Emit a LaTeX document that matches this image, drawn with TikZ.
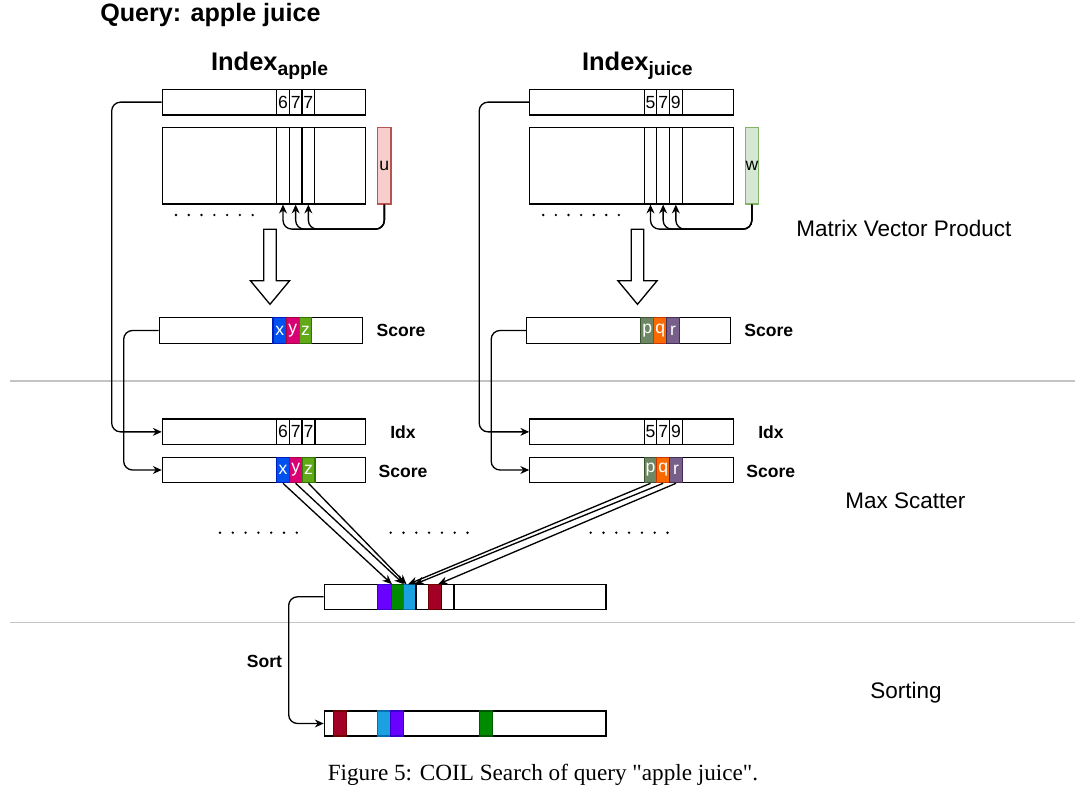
\documentclass[tikz,border=0pt]{standalone}
\usepackage{fontspec}
\setmainfont{Liberation Serif}
\setsansfont{Liberation Sans}
\usetikzlibrary{fit,arrows.meta}
\newcommand{\strq}{{\XeTeXglyph\XeTeXcharglyph"22\relax}}
\definecolor{cblue}{HTML}{0050EF}\definecolor{cblueD}{HTML}{001DBC}
\definecolor{cmag}{HTML}{D80073}\definecolor{cmagD}{HTML}{A50040}
\definecolor{cgrn}{HTML}{60A917}\definecolor{cgrnD}{HTML}{2D7600}
\definecolor{cp}{HTML}{6D8764}\definecolor{cpD}{HTML}{3A5431}
\definecolor{cq}{HTML}{FA6800}\definecolor{cqD}{HTML}{C73500}
\definecolor{cr}{HTML}{76608A}\definecolor{crD}{HTML}{432D57}
\definecolor{rpur}{HTML}{6A00FF}\definecolor{rpurD}{HTML}{3700CC}
\definecolor{rgrn}{HTML}{008A00}\definecolor{rgrnD}{HTML}{005700}
\definecolor{rblu}{HTML}{1BA1E2}\definecolor{rbluD}{HTML}{006EAF}
\definecolor{rred}{HTML}{A20025}\definecolor{rredD}{HTML}{6F0000}
\definecolor{ufill}{HTML}{F8CECC}\definecolor{udraw}{HTML}{B85450}
\definecolor{wfill}{HTML}{D5E8D4}\definecolor{wdraw}{HTML}{82B366}
\definecolor{sepgray}{HTML}{C4C4C4}
\begin{document}
\begin{tikzpicture}[x=0.02cm,y=-0.02cm,
  bx/.style={draw, line width=0.7pt, inner sep=0pt},
  cell/.style={draw, line width=0.7pt, inner sep=0pt},
  lab/.style={inner sep=0pt, font=\sffamily\fontsize{10}{12}\selectfont},
  wlab/.style={lab, text=white},
  conn/.style={draw, line width=0.75pt, rounded corners=5pt, -{Stealth[length=5pt,width=4.5pt]}},
  sc/.style={draw, line width=0.75pt, -{Stealth[length=5.5pt,width=4.5pt]}},
  lbl/.style={font=\sffamily\bfseries\fontsize{10}{12}\selectfont},
  side/.style={font=\sffamily\fontsize{12.8}{15}\selectfont, anchor=base west, inner sep=0pt},
  hollow/.style={draw, line width=0.75pt, fill=white, line join=miter},
  dot/.style={fill=black}
]
\useasboundingbox (0,0) rectangle (1080,795);

% separators
\draw[sepgray, line width=0.8pt] (10,381) -- (1075,381);
\draw[sepgray, line width=0.8pt] (10,622.3) -- (1075,622.3);

% titles
\node[anchor=base west, inner sep=0pt, font=\sffamily\bfseries\fontsize{14.3}{17}\selectfont] (query) at (100,21.5) {Query: apple juice};
\node[anchor=base west, inner sep=0pt, font=\sffamily\bfseries\fontsize{14.5}{17}\selectfont] (indA) at (210.7,70) {Index\raisebox{-3pt}{\fontsize{11}{13}\selectfont apple}};
\node[anchor=base west, inner sep=0pt, font=\sffamily\bfseries\fontsize{14.5}{17}\selectfont] (indB) at (581.7,70) {Index\raisebox{-3pt}{\fontsize{11}{13}\selectfont juice}};

\node[side] (mvp) at (796,236.5) {Matrix Vector Product};
\node[side] (msc) at (845,508.5) {Max Scatter};
\node[side] (srtl) at (870,698) {Sorting};

% ===== left block (apple) =====
\node[bx, fit={(162.3,89.3) (365.7,115)}] (topA) {};
\node[cell, fit={(276.7,89.3) (289.3,115)}, label={[lab]center:6}] (tA1) {};
\node[cell, fit={(289.3,89.3) (302,115)}, label={[lab]center:7}] (tA2) {};
\node[cell, fit={(302,89.3) (314.7,115)}, label={[lab]center:7}] (tA3) {};

\node[bx, fit={(162.3,127.7) (365.7,204)}] (matA) {};
\node[cell, fit={(276.7,127.7) (289.3,204)}] (cA1) {};
\node[cell, fit={(289.3,127.7) (302,204)}] (cA2) {};
\node[cell, fit={(302,127.7) (314.7,204)}] (cA3) {};
\node[cell, fill=ufill, draw=udraw, fit={(377.7,127.7) (391,204)}, label={[lab]center:u}] (uA) {};

\foreach \i in {0,...,6} \fill[dot] ({176+\i*12.78},215) circle[radius=0.75pt];

\draw[conn] (uA.south) -- ++(0,24.5) -| (cA1.south);
\draw[conn] (uA.south) -- ++(0,24.5) -| (cA2.south);
\draw[conn] (uA.south) -- ++(0,24.5) -| (cA3.south);

\draw[hollow] (263.7,229.3) -- (276.3,229.3) -- (276.3,280.7) -- (289.6,280.7) -- (270,304.3) -- (250.4,280.7) -- (263.7,280.7) -- cycle;

\node[bx, fit={(159.3,317.7) (362.7,343.3)}] (scoreA) {};
\node[cell, fill=cblue, draw=cblueD, fit={(273,317.7) (286.3,343.3)}, label={[wlab]center:x}] (sA1) {};
\node[cell, fill=cmag, draw=cmagD, fit={(286.3,317.7) (299.3,343.3)}, label={[wlab]center:y}] (sA2) {};
\node[cell, fill=cgrn, draw=cgrnD, fit={(299.3,317.7) (311.7,343.3)}, label={[wlab]center:z}] (sA3) {};
\node[lbl] (scoreAl) at (401,330.5) {Score};

\node[bx, fit={(162.3,419) (365.7,444.7)}] (idxA) {};
\node[cell, fit={(276.7,419) (289.3,444.7)}, label={[lab]center:6}] (iA1) {};
\node[cell, fit={(289.3,419) (302,444.7)}, label={[lab]center:7}] (iA2) {};
\node[cell, fit={(302,419) (315,444.7)}, label={[lab]center:7}] (iA3) {};
\node[lbl] (idxAl) at (403,432) {Idx};

\node[bx, fit={(162.3,457.3) (365.7,482.7)}] (scA) {};
\node[cell, fill=cblue, draw=cblueD, fit={(276.7,457.3) (289.3,482.7)}, label={[wlab]center:x}] (ssA1) {};
\node[cell, fill=cmag, draw=cmagD, fit={(289.3,457.3) (302,482.7)}, label={[wlab]center:y}] (ssA2) {};
\node[cell, fill=cgrn, draw=cgrnD, fit={(302,457.3) (315,482.7)}, label={[wlab]center:z}] (ssA3) {};
\node[lbl] (scAl) at (403,471) {Score};

\draw[conn] (topA.west) -- ++(-50,0) |- (idxA.west);
\draw[conn] (scoreA.west) -- ++(-35,0) |- (scA.west);

% ===== right block (juice) =====
\node[bx, fit={(529.8,89.3) (733.2,115)}] (topB) {};
\node[cell, fit={(644.2,89.3) (656.8,115)}, label={[lab]center:5}] (tB1) {};
\node[cell, fit={(656.8,89.3) (669.5,115)}, label={[lab]center:7}] (tB2) {};
\node[cell, fit={(669.5,89.3) (682.2,115)}, label={[lab]center:9}] (tB3) {};

\node[bx, fit={(529.8,127.7) (733.2,204)}] (matB) {};
\node[cell, fit={(644.2,127.7) (656.8,204)}] (cB1) {};
\node[cell, fit={(656.8,127.7) (669.5,204)}] (cB2) {};
\node[cell, fit={(669.5,127.7) (682.2,204)}] (cB3) {};
\node[cell, fill=wfill, draw=wdraw, fit={(745.2,127.7) (758.5,204)}, label={[lab]center:w}] (wB) {};

\foreach \i in {0,...,6} \fill[dot] ({543.3+\i*12.6},215) circle[radius=0.75pt];

\draw[conn] (wB.south) -- ++(0,24.5) -| (cB1.south);
\draw[conn] (wB.south) -- ++(0,24.5) -| (cB2.south);
\draw[conn] (wB.south) -- ++(0,24.5) -| (cB3.south);

\draw[hollow] (631.2,229.3) -- (643.8,229.3) -- (643.8,280.7) -- (657.1,280.7) -- (637.5,304.3) -- (617.9,280.7) -- (631.2,280.7) -- cycle;

\node[bx, fit={(526.8,317.7) (730.2,343.3)}] (scoreB) {};
\node[cell, fill=cp, draw=cpD, fit={(640.5,317.7) (653.8,343.3)}, label={[wlab]center:p}] (sB1) {};
\node[cell, fill=cq, draw=cqD, fit={(653.8,317.7) (666.8,343.3)}, label={[wlab]center:q}] (sB2) {};
\node[cell, fill=cr, draw=crD, fit={(666.8,317.7) (679.2,343.3)}, label={[wlab]center:r}] (sB3) {};
\node[lbl] (scoreBl) at (768.8,330.5) {Score};

\node[bx, fit={(529.8,419) (733.2,444.7)}] (idxB) {};
\node[cell, fit={(644.2,419) (656.8,444.7)}, label={[lab]center:5}] (iB1) {};
\node[cell, fit={(656.8,419) (669.5,444.7)}, label={[lab]center:7}] (iB2) {};
\node[cell, fit={(669.5,419) (682.5,444.7)}, label={[lab]center:9}] (iB3) {};
\node[lbl] (idxBl) at (771,432) {Idx};

\node[bx, fit={(529.8,457.3) (733.2,482.7)}] (scB) {};
\node[cell, fill=cp, draw=cpD, fit={(644.2,457.3) (656.8,482.7)}, label={[wlab]center:p}] (ssB1) {};
\node[cell, fill=cq, draw=cqD, fit={(656.8,457.3) (669.5,482.7)}, label={[wlab]center:q}] (ssB2) {};
\node[cell, fill=cr, draw=crD, fit={(669.5,457.3) (682.5,482.7)}, label={[wlab]center:r}] (ssB3) {};
\node[lbl] (scBl) at (770.8,471) {Score};

\draw[conn] (topB.west) -- ++(-50,0) |- (idxB.west);
\draw[conn] (scoreB.west) -- ++(-35,0) |- (scB.west);

% ===== middle dots =====
\foreach \s in {220,390.7,590.7}
  \foreach \i in {0,...,6} \fill[dot] ({\s+\i*12.8},532.7) circle[radius=0.75pt];

% ===== scatter result =====
\node[bx, fit={(324.3,584.3) (606,609.3)}] (res) {};
\node[cell, fill=rpur, draw=rpurD, fit={(377.7,584.3) (391.3,609.3)}] (r1) {};
\node[cell, fill=rgrn, draw=rgrnD, fit={(391.3,584.3) (403.7,609.3)}] (r2) {};
\node[cell, fill=rblu, draw=rbluD, fit={(403.7,584.3) (416,609.3)}] (r3) {};
\node[cell, fit={(416,584.3) (428.3,609.3)}] (r4) {};
\node[cell, fill=rred, draw=rredD, fit={(428.3,584.3) (441.7,609.3)}] (r5) {};
\node[cell, fit={(441.7,584.3) (454,609.3)}] (r6) {};

\coordinate (tgA1) at (392,584.3);
\coordinate (tgA2) at (404,584.3);
\coordinate (tgA3) at (406.5,584.3);
\coordinate (tgB1) at (408,584.3);
\coordinate (tgB2) at (414.5,584.3);
\coordinate (tgB3) at (438,584.3);
\draw[sc] (ssA1.south) -- (tgA1);
\draw[sc] (ssA2.south) -- (tgA2);
\draw[sc] (ssA3.south) -- (tgA3);
\draw[sc] (ssB1.south) -- (tgB1);
\draw[sc] (ssB2.south) -- (tgB2);
\draw[sc] (ssB3.south) -- (tgB3);

% ===== sorted =====
\node[bx, fit={(324.3,711) (606,736)}] (srt) {};
\node[cell, fill=rred, draw=rredD, fit={(333.3,711) (346.7,736)}] (q1) {};
\node[cell, fill=rblu, draw=rbluD, fit={(377.7,711) (390.7,736)}] (q2) {};
\node[cell, fill=rpur, draw=rpurD, fit={(390.7,711) (403.7,736)}] (q3) {};
\node[cell, fill=rgrn, draw=rgrnD, fit={(479.3,711) (492.7,736)}] (q4) {};

\draw[conn] (res.west) -- ++(-35,0) |- (srt.west);
\node[lbl] (sortl) at (264.5,661) {Sort};

% caption
\node[font=\fontsize{13.2}{15}\selectfont, anchor=base, inner sep=0pt] (cap) at (543,780.7) {Figure 5: COIL Search of query \strq apple juice\strq.};
\end{tikzpicture}
\end{document}
